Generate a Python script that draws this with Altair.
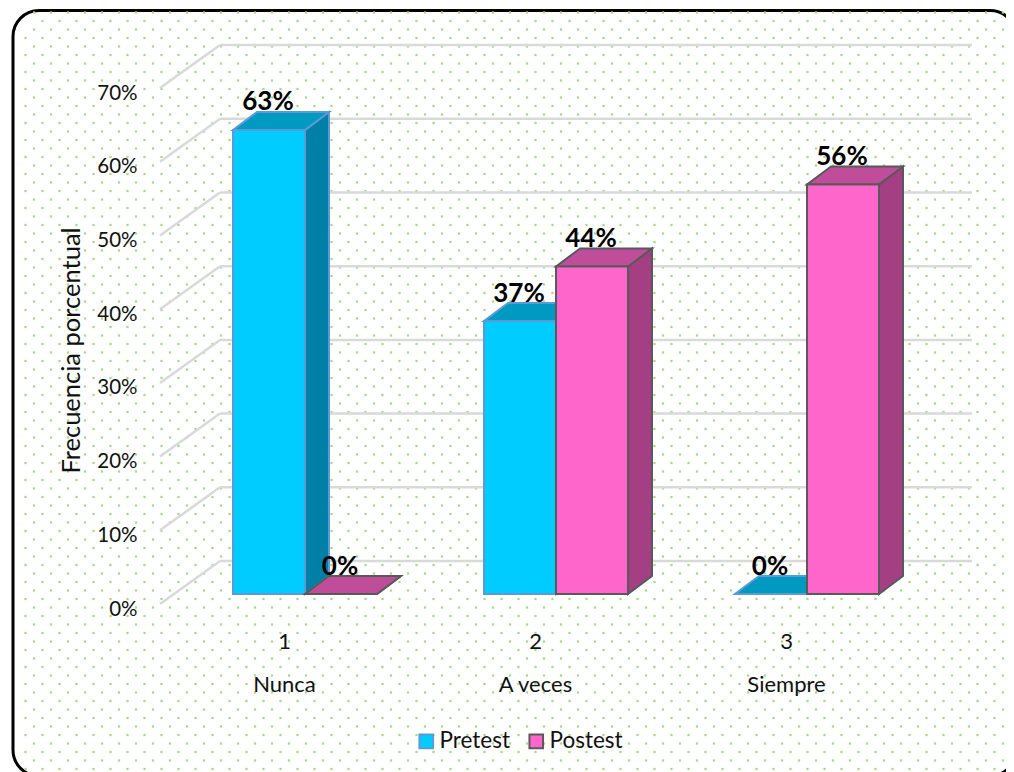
import altair as alt
import pandas as pd

# ---- values
series = ["Pretest", "Postest"]
categories = ["Nunca", "A veces", "Siempre"]
category_ids = [1, 2, 3]
pretest = [62.96, 37.04, 0]
postest = [0, 44.44, 55.56]
y_ticks = [0, 10, 20, 30, 40, 50, 60, 70]

front_colors = ["#00CCFF", "#FF66CC"]
top_colors = ["#0099C2", "#BF4D99"]
side_colors = ["#0080A6", "#A33F82"]
edge_colors = ["#5B9BD5", "#595959"]
FONT = "Lato"
INK = "#111111"

# ---- layout: the plot area fills the whole canvas (origin is page 8,8)
W, H = 998, 764
PX_PER_CAT = 251.0
PX_PER_PCT = 7.37
X0, Y0 = 305.0, 594.0  # page position of category 1 / 0%


def ux(px):
    return 1 + (px - X0) / PX_PER_CAT


def uy(py):
    return (Y0 - py) / PX_PER_PCT


x_scale = alt.Scale(domain=[ux(8), ux(8 + W)], nice=False, zero=False)
y_scale = alt.Scale(domain=[uy(8 + H), uy(8)], nice=False, zero=False)
BAR_W = 72 / PX_PER_CAT
DX = 24 / PX_PER_CAT
DY = 18 / PX_PER_PCT
WALL_DY = 33 / PX_PER_PCT
WALL_X0, WALL_X1, SIDE_X0 = ux(220), ux(972), ux(160)
SIDE_DY = 43 / PX_PER_PCT

axis_y = alt.Axis(
    values=y_ticks, labelExpr="datum.value + '%'", domain=False, ticks=False, grid=False,
    orient="left", offset=-(137 - 8), labelPadding=0, labelOffset=15, labelFont=FONT,
    labelFontSize=20.5, labelColor=INK, labelOverlap=False, labelFlush=False,
    title="Frecuencia porcentual", titleFont=FONT, titleFontSize=25.5, titleFontWeight="normal",
    titleColor=INK, titleX=-66, titleY=342, titleAngle=270, titleAlign="center",
    titleBaseline="middle", zindex=1,
)
axis_x = alt.Axis(
    values=category_ids, domain=False, ticks=False, grid=False, orient="bottom",
    offset=-(772 - 631), labelPadding=0, labelOffset=-21, labelFont=FONT, labelFontSize=22,
    labelColor=INK, labelOverlap=False, labelFlush=False, labelAngle=0, labelLineHeight=43,
    labelExpr="[datum.value, ['Nunca', 'A veces', 'Siempre'][datum.value - 1]]", title=None,
    zindex=1,
)


def X(field="x"):
    return alt.X(f"{field}:Q", scale=x_scale, axis=axis_x)


def Y(field="y"):
    return alt.Y(f"{field}:Q", scale=y_scale, axis=axis_y)


# ---- background
frame = alt.Chart(pd.DataFrame({"a": [0]})).mark_rect(
    fill="white", stroke="black", strokeWidth=3, cornerRadius=26
).encode(x=alt.value(13 - 8), x2=alt.value(1016 - 8), y=alt.value(10.5 - 8), y2=alt.value(776 - 8))

dots = []
for k in range(0, 92):
    py = 12.5 + 8.5 * k
    off = 8.5 if k % 2 == 0 else 0
    px = 25.5 + off
    while px < 1012:
        if not (py < 28 and px < 30):
            dots.append({"x": ux(px), "y": uy(py)})
        px += 17
dot_layer = alt.Chart(pd.DataFrame(dots)).mark_square(
    size=5, color="#A6D98B", opacity=1
).encode(x=X(), y=Y())

# ---- walls
grid_rows = [{"x": WALL_X0, "x2": WALL_X1, "y": t + WALL_DY, "y2": t + WALL_DY} for t in y_ticks]
diag_rows = [{"x": SIDE_X0, "x2": WALL_X0, "y": t + WALL_DY - SIDE_DY, "y2": t + WALL_DY} for t in y_ticks]
grid = alt.Chart(pd.DataFrame(grid_rows + diag_rows)).mark_rule(
    color="#D9D9D9", strokeWidth=2.5
).encode(x=X(), x2="x2:Q", y=Y(), y2="y2:Q")

# ---- bars as three faces each
layers = []
values = [pretest, postest]
legend = alt.Legend(
    orient="none", legendX=415 - 8, legendY=730 - 8, direction="horizontal", title=None,
    symbolType="square", symbolSize=185, symbolStrokeWidth=2, symbolOpacity=1,
    labelFont=FONT, labelFontSize=22.5, labelColor=INK, labelOffset=2, columnPadding=14,
    padding=0, labelLimit=200,
)
for s, name in enumerate(series):
    front_rows, side_rows, top_rows = [], [], []
    for c, cid in enumerate(category_ids):
        v = values[s][c]
        x0 = cid + (s - 1) * BAR_W
        x1 = x0 + BAR_W
        front_rows.append({"serie": name, "x": x0, "x2": x1, "y": 0, "y2": v})
        side_rows += [
            {"id": c, "x": x1, "lo": 0, "hi": v},
            {"id": c, "x": x1 + DX, "lo": DY, "hi": v + DY},
        ]
        top_rows += [
            {"id": c, "y": v, "x": x0, "x2": x1},
            {"id": c, "y": v + DY, "x": x0 + DX, "x2": x1 + DX},
        ]
    side = alt.Chart(pd.DataFrame(side_rows)).mark_area(
        color=side_colors[s], stroke=edge_colors[s], strokeWidth=2, opacity=1, orient="vertical"
    ).encode(x=X(), y=Y("lo"), y2="hi:Q", detail="id:N")
    top = alt.Chart(pd.DataFrame(top_rows)).mark_area(
        color=top_colors[s], stroke=edge_colors[s], strokeWidth=2, opacity=1, orient="horizontal"
    ).encode(x=X(), x2="x2:Q", y=Y(), detail="id:N")
    front = alt.Chart(pd.DataFrame(front_rows)).mark_rect(strokeWidth=2, opacity=1).encode(
        x=X(), x2="x2:Q", y=Y(), y2="y2:Q",
        color=alt.Color("serie:N", scale=alt.Scale(domain=series, range=front_colors), legend=legend),
        stroke=alt.Stroke("serie:N", scale=alt.Scale(domain=series, range=edge_colors), legend=legend),
    )
    layers += [side, top, front]

# ---- value labels
label_rows = []
for s, name in enumerate(series):
    for c, cid in enumerate(category_ids):
        v = values[s][c]
        label_rows.append({"x": cid + (s - 0.5) * BAR_W - 1 / PX_PER_CAT, "y": v, "t": f"{round(v)}%"})
labels = alt.Chart(pd.DataFrame(label_rows)).mark_text(
    font=FONT, fontSize=26, fontWeight="bold", color="black", baseline="alphabetic", dy=-19.5
).encode(x=X(), y=Y(), text="t:N")

chart = alt.layer(frame, dot_layer, grid, *layers, labels).properties(
    width=W, height=H, padding=0, autosize=alt.AutoSizeParams(type="none"),
    background="white",
).configure_view(stroke=None)

chart.save("out.html", embed_options={"renderer": "svg", "actions": False})
